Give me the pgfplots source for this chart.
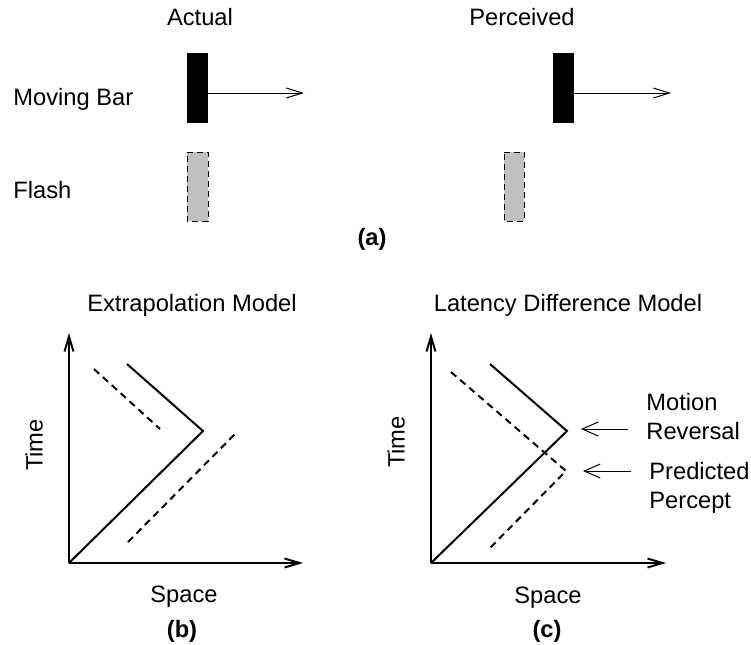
\documentclass[border=0pt]{standalone}
\usepackage{pgfplots}
\pgfplotsset{compat=1.18}
\usepackage{fontspec}
\setmainfont{Liberation Sans}
\usetikzlibrary{arrows.meta}
\tikzset{lbl/.style={font=\fontsize{11.85}{14}\selectfont, inner sep=0pt, text height=8.5pt, text depth=0pt}}
\begin{document}
\begin{tikzpicture}
\begin{axis}[scale only axis, width=375.5pt, height=322pt,
  xmin=0, xmax=751, ymin=0, ymax=644, y dir=reverse,
  hide axis, clip=false]
\path (axis cs:0,0) (axis cs:751,644);
% ---------- panel (a)
\addplot[draw=none, fill=black] coordinates {(187,53) (208,53) (208,123) (187,123)} -- cycle;
\addplot[draw=none, fill=black] coordinates {(553,53) (574,53) (574,123) (553,123)} -- cycle;
\addplot[fill=black!25, draw=black, line width=0.5pt, dash pattern=on 3pt off 2pt] coordinates {(187,152) (208,152) (208,221) (187,221)} -- cycle;
\addplot[fill=black!25, draw=black, line width=0.5pt, dash pattern=on 3pt off 2pt] coordinates {(504,152) (524,152) (524,221) (504,221)} -- cycle;
\addplot[line width=0.5pt, -{Straight Barb[length=8pt,width=5pt]}] coordinates {(208,93) (304,93)};
\addplot[line width=0.5pt, -{Straight Barb[length=8pt,width=5pt]}] coordinates {(574,93) (671,93)};
\node[lbl] at (axis cs:200,17) {Actual};
\node[lbl] at (axis cs:522,17) {Perceived};
\node[lbl,anchor=west] at (axis cs:13,97) {Moving Bar};
\node[lbl,anchor=west] at (axis cs:13,190) {Flash};
\node[lbl] at (axis cs:372,237) {\bfseries (a)};
% ---------- panel (b)
\addplot[line width=1pt, -{Straight Barb[length=7.5pt,width=4.5pt]}] coordinates {(69,563) (69,333)};
\addplot[line width=1pt, -{Straight Barb[length=7.5pt,width=4.5pt]}] coordinates {(69,563) (303,563)};
\addplot[line width=1pt] coordinates {(69,563) (203,431) (127,364)};
\addplot[line width=1pt, dash pattern=on 3.5pt off 2.5pt] coordinates {(94,369) (160,429)};
\addplot[line width=1pt, dash pattern=on 3.5pt off 2.5pt] coordinates {(128,542) (237,432)};
\node[lbl] at (axis cs:192,303) {Extrapolation Model};
\node[lbl,rotate=90] at (axis cs:34,445) {Time};
\node[lbl] at (axis cs:184,594) {Space};
\node[lbl] at (axis cs:182,629) {\bfseries (b)};
% ---------- panel (c)
\addplot[line width=1pt, -{Straight Barb[length=7.5pt,width=4.5pt]}] coordinates {(431,563) (431,333)};
\addplot[line width=1pt, -{Straight Barb[length=7.5pt,width=4.5pt]}] coordinates {(431,563) (666,563)};
\addplot[line width=1pt] coordinates {(431,563) (567,431) (490,364)};
\addplot[line width=1pt, dash pattern=on 3.5pt off 2.5pt] coordinates {(451,372) (566,471) (488,550)};
\addplot[line width=0.5pt, -{Straight Barb[length=8pt,width=7pt]}] coordinates {(628,429) (581,429)};
\addplot[line width=0.5pt, -{Straight Barb[length=8pt,width=7pt]}] coordinates {(631,471) (583,471)};
\node[lbl] at (axis cs:568,303) {Latency Difference Model};
\node[lbl,rotate=90] at (axis cs:396,442) {Time};
\node[lbl] at (axis cs:548,595) {Space};
\node[lbl] at (axis cs:547,629) {\bfseries (c)};
\node[lbl,anchor=west] at (axis cs:646,402) {Motion};
\node[lbl,anchor=west] at (axis cs:646,431) {Reversal};
\node[lbl,anchor=west] at (axis cs:649,471) {Predicted};
\node[lbl,anchor=west] at (axis cs:649,500) {Percept};
\end{axis}
\end{tikzpicture}
\end{document}
